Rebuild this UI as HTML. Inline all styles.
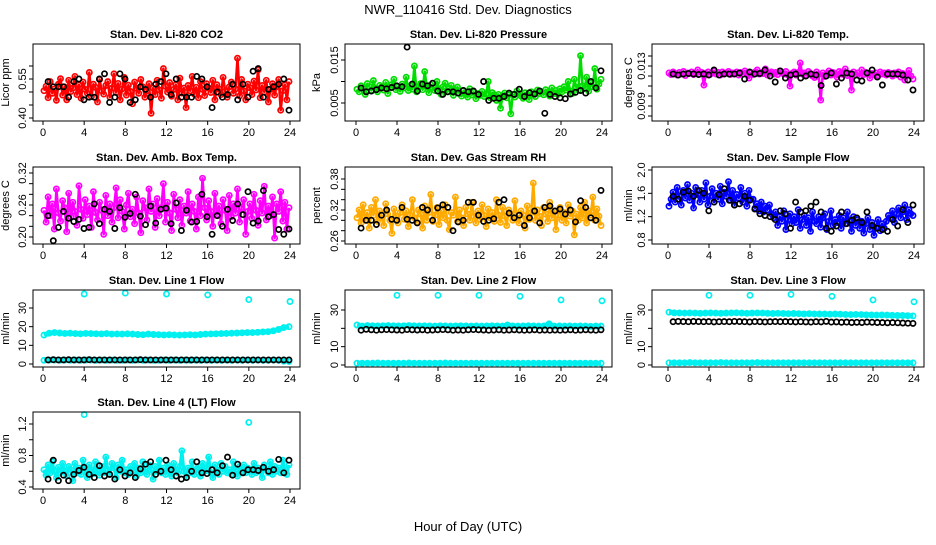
<!DOCTYPE html>
<html><head><meta charset="utf-8"><style>
body{margin:0;background:#fff}
svg text{font-family:"Liberation Sans",sans-serif}
</style></head><body>
<svg id="chart" width="936" height="540" viewBox="0 0 936 540" xmlns="http://www.w3.org/2000/svg">
<rect width="936" height="540" fill="#fff"/>
<text x="468" y="14" font-size="13" text-anchor="middle">NWR_110416  Std. Dev. Diagnostics</text>
<text x="468" y="531" font-size="13" text-anchor="middle">Hour of Day (UTC)</text>
</svg>
<script>
// ---- data ----
const co2 = [505,522,478,540,495,512,468,530,551,488,520,470,545,502,515,560,490,528,476,538,510,495,575,482,530,518,462,548,505,492,525,540,480,515,570,498,533,470,512,556,488,526,502,455,538,514,495,548,520,480,504,532,418,515,490,545,508,476,590,522,500,536,484,510,528,470,553,496,515,440,525,505,560,492,518,478,540,510,486,532,515,498,545,470,528,512,490,556,503,480,520,538,495,512,630,485,548,505,470,530,516,490,542,508,585,478,525,500,545,462,510,532,488,520,548,430,505,528,470,540];
const co2Hourly = [540,520,520,520,480,540,550,470,480,480,550,570,460,480,570,550,460,470,520,510,480,530,540,570,490,550,480,480,480,560,550,520,440,500,480,490,530,470,530,480,580,590,480,510,520,530,550,430];
const pres = [820,760,900,850,700,950,880,790,1020,840,760,910,870,800,980,720,860,930,1050,810,880,770,940,850,1100,790,900,820,1360,760,870,950,810,1230,880,740,920,860,790,1000,830,700,880,960,760,840,910,680,800,870,720,660,790,700,640,830,690,750,600,720,680,770,650,710,1000,620,740,690,560,700,380,660,730,620,690,250,700,640,780,720,660,610,740,690,580,760,700,650,800,720,760,690,810,740,660,850,720,790,700,830,760,880,800,1000,780,720,1050,860,800,1600,900,840,1100,780,960,880,1300,820,940,1050];
const presHourly = [850,760,780,810,850,830,860,900,880,1800,940,780,940,900,960,780,700,760,760,730,790,760,780,700,1000,560,610,610,650,730,700,820,650,740,710,780,260,700,650,620,600,710,750,790,730,1000,850,1250];
const temp = [1230,1215,1240,1225,1210,1235,1220,1245,1205,1230,1225,1240,1215,1230,1260,1220,1235,1110,1225,1240,1215,1230,1250,1220,1235,1210,1240,1225,1230,1245,1215,1230,1225,1240,1210,1235,1220,1250,1225,1180,1230,1215,1240,1260,1220,1235,1225,1270,1210,1230,1240,1220,1235,1215,1250,1230,1220,1245,1210,1100,1225,1240,1210,1235,1330,1220,1230,1205,1245,1225,1200,1185,1240,1215,960,1230,1195,1225,1250,1210,1235,1220,1190,1245,1230,1215,1270,1205,1225,1060,1240,1215,1230,1200,1260,1215,1235,1220,1180,1225,1215,1230,1205,1240,1220,1230,1210,1235,1225,1200,1230,1215,1240,1190,1225,1160,1210,1255,1200,1170];
const tempHourly = [1220,1210,1220,1225,1220,1215,1220,1210,1260,1210,1220,1220,1220,1230,1170,1240,1220,1225,1260,1200,1140,1250,1180,1210,1220,1180,1200,1220,1210,1105,1200,1230,1120,1180,1230,1220,1160,1150,1230,1260,1190,1110,1220,1220,1220,1210,1160,1060];
const amb = [250,228,275,240,262,215,290,245,230,268,255,210,282,238,265,248,222,296,252,235,270,242,258,218,285,246,232,265,250,205,278,240,262,228,255,292,236,270,248,215,260,282,238,252,225,275,245,208,268,255,232,290,248,262,218,272,240,255,300,228,265,245,212,280,252,236,270,222,258,245,285,230,262,248,215,275,240,310,255,232,268,248,220,282,242,258,225,270,250,212,278,238,262,245,290,228,255,270,205,248,262,235,280,250,222,268,245,295,232,258,240,275,198,262,248,285,230,265,215,255];
const ambHourly = [240,193,218,248,235,229,233,216,218,262,225,252,248,216,255,237,244,280,239,223,258,226,252,254,225,264,212,250,228,229,280,238,205,240,220,252,231,262,242,285,226,230,287,238,242,214,205,215];
const rh = [305,320,295,330,300,315,285,325,310,340,298,318,305,290,332,312,300,275,322,308,295,315,330,302,318,288,310,340,305,296,320,312,285,328,300,315,350,298,310,325,292,318,305,330,300,282,315,310,345,298,320,305,290,325,312,300,335,308,295,318,302,330,310,288,322,305,315,298,340,310,296,325,308,290,320,312,300,338,305,295,318,310,285,328,302,315,372,300,320,308,290,325,312,298,335,305,318,282,310,325,300,315,295,330,308,318,272,312,300,325,305,335,295,318,310,345,300,322,308,290];
const rhHourly = [285,300,300,292,310,320,302,300,325,302,300,295,325,320,300,324,330,325,280,297,300,335,335,310,298,300,303,335,340,314,305,310,290,305,318,295,325,328,318,322,312,320,297,338,325,305,300,358];
const flow = [138,150,162,145,170,155,140,165,152,175,148,160,135,170,158,145,165,150,178,140,155,168,145,160,150,172,142,162,155,180,148,165,140,158,152,170,145,160,138,165,150,150,135,142,130,145,128,138,132,140,125,118,128,105,120,112,130,98,115,125,108,120,110,132,100,115,122,105,118,95,128,112,108,120,102,118,125,98,112,130,105,115,110,122,100,118,108,128,112,95,120,105,115,100,112,92,108,118,98,110,88,102,115,96,108,100,112,122,118,130,110,125,135,118,128,140,115,132,125,122];
const flowHourly = [155,150,162,164,155,165,160,130,145,158,168,148,140,142,155,148,133,125,122,120,115,130,125,100,145,128,130,138,145,128,100,95,104,128,108,114,118,110,128,105,100,98,95,115,104,132,110,140];
const l1Upper = [155,165,168,166,164,165,163,162,164,163,162,161,163,160,161,160,162,160,158,157,160,158,157,156,157,156,155,156,157,156,158,160,161,162,163,164,165,166,167,168,168,170,172,173,178,185,195,200];
const l1Lower = [20,21,21,20,21,20,21,20,21,21,20,21,20,21,20,20,21,20,21,20,21,20,20,21,20,21,20,21,20,21,20,21,20,21,20,21,20,21,20,21,20,21,20,20,21,20,15,14];
const l1Black = [22,23,22,22,23,22,22,22,23,22,22,22,22,22,22,22,22,22,23,22,22,22,22,22,22,22,22,22,22,22,22,22,22,22,22,22,22,22,22,22,22,22,22,22,22,22,22,22];
const l1Out = [375,380,375,370,345,335];
const l2Upper = [218,212,215,214,213,214,215,214,213,214,215,214,213,214,213,212,214,213,212,213,214,213,212,213,212,213,214,213,212,218,213,212,213,214,213,212,213,225,212,213,212,213,212,213,212,211,212,212];
const l2Lower = [10,10,10,10,11,10,10,10,10,10,11,10,10,10,10,10,10,11,10,10,10,10,10,10,10,10,10,10,10,10,10,10,10,10,10,10,10,10,10,10,10,10,10,10,10,10,10,10];
const l2Black = [190,195,192,190,192,193,192,191,190,193,192,191,192,190,191,192,193,192,190,191,190,192,193,192,191,190,191,192,190,191,192,191,190,191,192,190,191,190,191,190,191,192,190,191,192,191,190,192];
const l2Out = [380,380,380,375,355,350];
const l3Upper = [288,285,284,283,284,283,282,283,284,283,282,283,284,285,283,282,283,284,283,282,281,282,281,280,281,280,279,280,279,278,278,277,278,277,276,275,276,275,274,273,272,273,272,271,270,270,269,268];
const l3Lower = [12,12,12,12,13,12,12,12,12,12,13,12,12,12,12,12,12,13,12,12,12,12,12,12,12,12,12,12,12,12,12,12,12,12,12,12,12,12,12,12,12,12,12,12,12,12,12,12];
const l3Black = [236,238,237,236,238,237,236,237,235,236,237,236,238,237,236,235,237,236,235,236,237,236,237,236,235,236,235,234,236,235,238,234,235,233,234,232,233,232,234,233,232,231,230,231,230,229,228,227];
const l3Out = [380,380,385,375,355,345];
const l4 = [62,55,68,58,72,60,52,65,58,70,60,54,66,62,48,70,58,64,56,74,60,52,68,62,57,72,60,55,66,58,78,62,56,70,64,52,68,60,74,58,62,56,66,60,70,54,64,58,72,60,56,68,62,50,66,60,74,58,64,56,68,60,54,70,62,58,66,86,60,52,64,58,72,56,62,66,54,70,60,64,78,58,52,68,62,56,70,60,66,58,62,56,72,60,54,66,60,68,58,64,62,56,70,58,64,60,52,68,62,58,72,56,66,60,64,58,74,62,56,68];
const l4Hourly = [50,74,48,55,48,56,61,65,56,52,67,54,56,50,62,54,58,52,63,69,72,56,60,74,62,54,50,52,60,72,58,57,62,58,67,78,55,69,58,62,62,61,65,60,62,75,58,74];
const l4Out = [132,138,122];
const outHours = [4,8,12,16,20,24];

// ---- drawing ----
const NS = "http://www.w3.org/2000/svg";
const svg = document.getElementById("chart");
function mk(tag, attrs){ const e=document.createElementNS(NS,tag); for(const k in attrs) e.setAttribute(k,attrs[k]); svg.appendChild(e); return e; }

const cols = [{l:33,r:300,x0:43,x24:290,yl:9},{l:345,r:612,x0:356,x24:602,yl:320},{l:652,r:924,x0:668,x24:914,yl:632}];
const rows = [{t:44,b:121},{t:167,b:244},{t:290,b:367},{t:412,b:489}];

function makePanel(p){
  const c=cols[p.col], r=rows[p.row];
  const xs = t => c.x0 + t*(c.x24-c.x0)/24;
  const ys = v => p.py1 + (v-p.v1)*(p.py2-p.py1)/(p.v2-p.v1);
  const title = mk("text",{x:(c.l+c.r)/2,y:r.t-6,"font-size":11,"font-weight":"bold","text-anchor":"middle"});
  title.textContent=p.title;
  
  
  const yl = mk("text",{x:c.yl,y:(r.t+r.b)/2,"font-size":11,"text-anchor":"middle",transform:`rotate(-90 ${c.yl} ${(r.t+r.b)/2})`});
  yl.textContent=p.ylab;
  
  
  const g = mk("g",{});
  
  
  function pts(times, vals, scale, color, sw, band){
    if(band){
      const d = vals.map((v,i)=>`${i?'L':'M'}${xs(times[i]).toFixed(1)},${Math.min(r.b,Math.max(r.t,ys(v*scale))).toFixed(1)}`).join(' ');
      const pl=document.createElementNS(NS,"path");
      pl.setAttribute("d",d);
      pl.setAttribute("fill","none");
      pl.setAttribute("stroke",color);
      pl.setAttribute("stroke-width",band);
      pl.setAttribute("stroke-linejoin","round");
      
      
      g.appendChild(pl);
    }
    vals.forEach((v,i)=>{
      const cy = ys(v*scale);
      if(cy<r.t-2||cy>r.b+2) return;
      const ci=document.createElementNS(NS,"circle");
      ci.setAttribute("cx",xs(times[i]).toFixed(1));
      ci.setAttribute("cy",cy.toFixed(1));
      ci.setAttribute("r",2.6);
      ci.setAttribute("fill","none");
      ci.setAttribute("stroke",color);
      ci.setAttribute("stroke-width",sw||1.7);
      
      
      g.appendChild(ci);
    });
  }
  p.series.forEach(s=>{
    const n=s.vals.length;
    const times = s.times || s.vals.map((_,i)=> s.start + i*(s.end-s.start)/(n-1));
    pts(times, s.vals, s.scale, s.color, s.sw, s.band);
  });
  const box = mk("rect",{x:c.l,y:r.t,width:c.r-c.l,height:r.b-r.t,fill:"none",stroke:"#000","stroke-width":1});
  
  
  [0,4,8,12,16,20,24].forEach(t=>{
    mk("line",{x1:xs(t),x2:xs(t),y1:r.b,y2:r.b+4,stroke:"#000"});
    const tx=mk("text",{x:xs(t),y:r.b+15,"font-size":11,"text-anchor":"middle"});
    tx.textContent=t;
    
    
  });
  p.ticks.forEach(v=>{
    const y=ys(v);
    mk("line",{x1:c.l-4,x2:c.l,y1:y,y2:y,stroke:"#000"});
  });
  p.labels.forEach(v=>{
    const y=ys(v), x=c.l-7;
    const tx=mk("text",{x:x,y:y,"font-size":11,"text-anchor":"middle",transform:`rotate(-90 ${x} ${y})`});
    tx.textContent=v.toFixed(p.dec);
    
    
  });
}
const full = {start:0.1,end:23.9};
const half = {start:0.5,end:23.9};
const cyan="#00f0f0";
makePanel({name:"co2",col:0,row:0,title:"Stan. Dev. Li-820 CO2",ylab:"Licor ppm",v1:0.40,py1:118,v2:0.55,py2:79,ticks:[0.40,0.45,0.50,0.55,0.60],labels:[0.40,0.55],dec:2,
  series:[{vals:co2,scale:0.001,color:"#ff0000",band:2.5,...full},{vals:co2Hourly,scale:0.001,color:"#000",...half}]});
makePanel({name:"pressure",col:1,row:0,title:"Stan. Dev. Li-820 Pressure",ylab:"kPa",v1:0.005,py1:103,v2:0.015,py2:60,ticks:[0.005,0.010,0.015],labels:[0.005,0.015],dec:3,
  series:[{vals:pres,scale:0.00001,color:"#00dd00",band:2.5,...full},{vals:presHourly,scale:0.00001,color:"#000",...half}]});
makePanel({name:"temp",col:2,row:0,title:"Stan. Dev. Li-820 Temp.",ylab:"degrees C",v1:0.009,py1:106,v2:0.013,py2:66,ticks:[0.008,0.009,0.010,0.011,0.012,0.013,0.014],labels:[0.009,0.013],dec:3,
  series:[{vals:temp,scale:0.00001,color:"#ff00ff",band:2.5,...full},{vals:tempHourly,scale:0.00001,color:"#000",...half}]});
makePanel({name:"amb-box",col:0,row:1,title:"Stan. Dev. Amb. Box Temp.",ylab:"degrees C",v1:0.20,py1:237,v2:0.32,py2:173,ticks:[0.20,0.22,0.24,0.26,0.28,0.30,0.32],labels:[0.20,0.26,0.32],dec:2,
  series:[{vals:amb,scale:0.001,color:"#ff00ff",band:2.5,...full},{vals:ambHourly,scale:0.001,color:"#000",...half}]});
makePanel({name:"rh",col:1,row:1,title:"Stan. Dev. Gas Stream RH",ylab:"percent",v1:0.26,py1:241,v2:0.38,py2:179,ticks:[0.26,0.28,0.30,0.32,0.34,0.36,0.38],labels:[0.26,0.32,0.38],dec:2,
  series:[{vals:rh,scale:0.001,color:"#ffaa00",band:2.5,...full},{vals:rhHourly,scale:0.001,color:"#000",...half}]});
makePanel({name:"sample-flow",col:2,row:1,title:"Stan. Dev. Sample Flow",ylab:"ml/min",v1:0.8,py1:240,v2:2.0,py2:170,ticks:[0.8,1.2,1.6,2.0],labels:[0.8,1.2,1.6,2.0],dec:1,
  series:[{vals:flow,scale:0.01,color:"#0000ff",band:2.5,...full},{vals:flowHourly,scale:0.01,color:"#000",...half}]});
makePanel({name:"line1",col:0,row:2,title:"Stan. Dev. Line 1 Flow",ylab:"ml/min",v1:0,py1:364,v2:30,py2:308,ticks:[0,10,20,30],labels:[0,10,20,30],dec:0,
  series:[{vals:l1Upper,scale:0.1,color:cyan,band:5,...full},{vals:l1Lower,scale:0.1,color:cyan,band:4,...full},{vals:l1Black,scale:0.1,color:"#000",...half},{vals:l1Out,scale:0.1,color:cyan,times:outHours}]});
makePanel({name:"line2",col:1,row:2,title:"Stan. Dev. Line 2 Flow",ylab:"ml/min",v1:0,py1:365,v2:30,py2:310,ticks:[0,10,20,30],labels:[0,10,30],dec:0,
  series:[{vals:l2Upper,scale:0.1,color:cyan,band:5,...full},{vals:l2Lower,scale:0.1,color:cyan,band:4,...full},{vals:l2Black,scale:0.1,color:"#000",...half},{vals:l2Out,scale:0.1,color:cyan,times:outHours}]});
makePanel({name:"line3",col:2,row:2,title:"Stan. Dev. Line 3 Flow",ylab:"ml/min",v1:0,py1:365,v2:30,py2:310,ticks:[0,10,20,30],labels:[0,10,30],dec:0,
  series:[{vals:l3Upper,scale:0.1,color:cyan,band:5,...full},{vals:l3Lower,scale:0.1,color:cyan,band:4,...full},{vals:l3Black,scale:0.1,color:"#000",...half},{vals:l3Out,scale:0.1,color:cyan,times:outHours}]});
makePanel({name:"line4",col:0,row:3,title:"Stan. Dev. Line 4 (LT) Flow",ylab:"ml/min",v1:0.4,py1:487,v2:1.2,py2:424,ticks:[0.4,0.6,0.8,1.0,1.2],labels:[0.4,0.8,1.2],dec:1,
  series:[{vals:l4,scale:0.01,color:cyan,band:3,...full},{vals:l4Hourly,scale:0.01,color:"#000",...half},{vals:l4Out,scale:0.01,color:cyan,times:[4,12,20]}]});
</script>
</body></html>
